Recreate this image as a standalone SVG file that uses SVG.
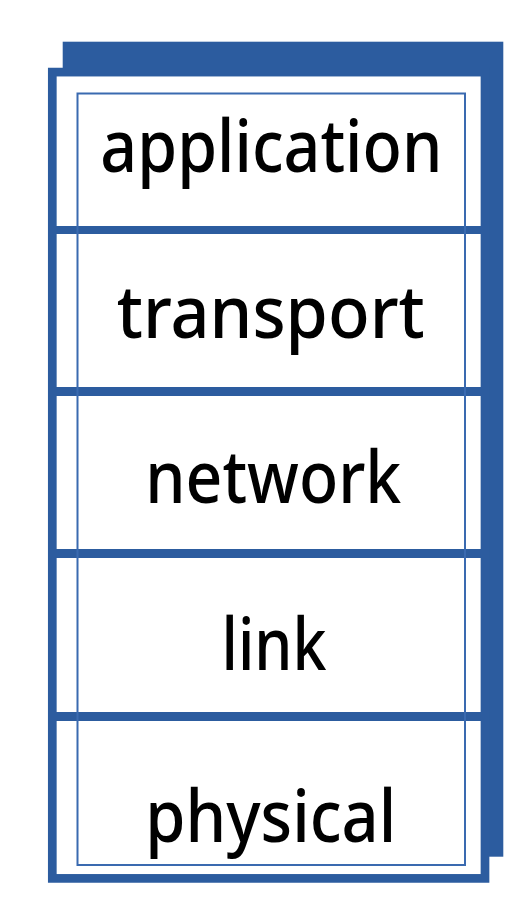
<svg xmlns="http://www.w3.org/2000/svg" width="530" height="912" viewBox="0 0 530 912">
<style>
.blue{fill:#2c5c9f}
.frame{fill:#ffffff;stroke:#2c5c9f;stroke-width:8.7}
.inner{fill:none;stroke:#3a6ab0;stroke-width:2}
.lbl{font-family:"Noto Sans","DejaVu Sans",sans-serif;font-size:73px;font-weight:500;fill:#000;text-anchor:middle}
</style>
<rect width="530" height="912" fill="#ffffff"/>
<g id="stack">
<rect class="blue" x="62.7" y="41.7" width="440.6" height="815"/>
<rect class="frame" x="52.3" y="72.1" width="432.7" height="806.3"/>
</g>
<g id="dividers">
<rect class="blue" x="56" y="226" width="425" height="8"/>
<rect class="blue" x="56" y="387" width="425" height="9"/>
<rect class="blue" x="56" y="549" width="425" height="9"/>
<rect class="blue" x="56" y="712" width="425" height="9"/>
</g>
<rect class="inner" x="77.5" y="93.5" width="387.5" height="771.5"/>
<g id="application"><text class="lbl" x="271.3" y="171.7" textLength="342" lengthAdjust="spacingAndGlyphs">application</text></g>
<g id="transport"><text class="lbl" x="270.8" y="338.3" textLength="308" lengthAdjust="spacingAndGlyphs">transport</text></g>
<g id="network"><text class="lbl" x="273.3" y="503.3" textLength="256" lengthAdjust="spacingAndGlyphs">network</text></g>
<g id="link"><text class="lbl" x="274" y="670" textLength="105" lengthAdjust="spacingAndGlyphs">link</text></g>
<g id="physical"><text class="lbl" x="270.8" y="841.7" textLength="251" lengthAdjust="spacingAndGlyphs">physical</text></g>
</svg>
